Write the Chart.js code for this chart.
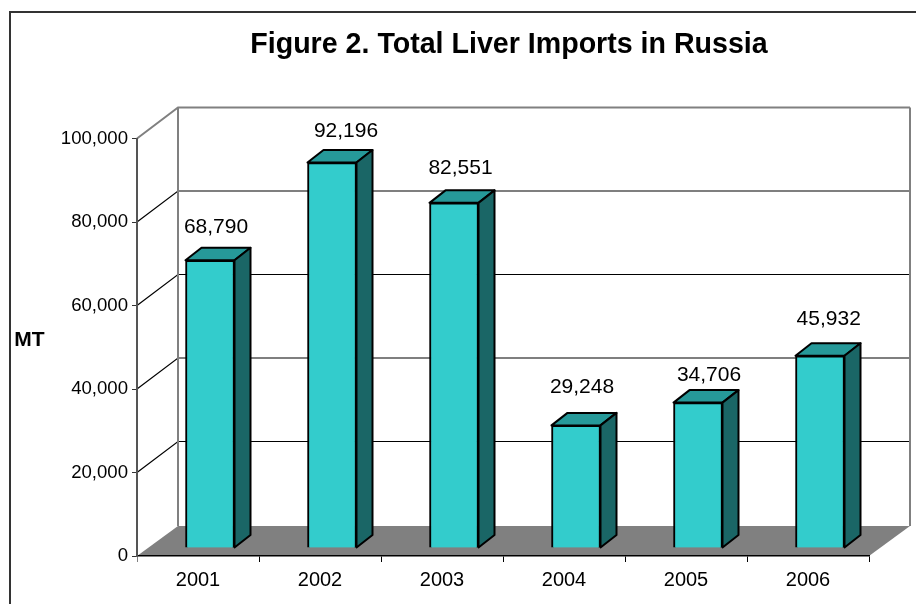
<!DOCTYPE html>
<html lang="en">
<head>
  <title>Total Liver Imports in Russia</title>
  <script src="https://cdn.jsdelivr.net/npm/chart.js"></script>
  <style>
    html, body { margin: 0; background: #fff; }
    .chart-container { position: relative; width: 916px; height: 604px; }
  </style>
</head>
<body>
  <div class="chart-container">
    <canvas id="liverChart"></canvas>
  </div>

  <script>
    const years = ['2001', '2002', '2003', '2004', '2005', '2006'];
    const imports = [68790, 92196, 82551, 29248, 34706, 45932];
    const yTicks = [0, 20000, 40000, 60000, 80000, 100000];
    const chartTitle = 'Figure 2. Total Liver Imports in Russia';
    const axisLabel = 'MT';

    const FONT = '"Liberation Sans", Arial, sans-serif';
    // how far the back wall and the bar depth are pushed up and to the right
    const wall = { dx: 41, dy: -30, gridDy: -31 };
    const depth = { dx: 16, dy: -12.5 };
    const barShift = 12;
    // the value labels were nudged by hand, one [x, y] offset per bar
    const labelNudge = [[0, -33.5], [8, -31.3], [0.5, -34.7], [0, -38], [5, -27.5], [2.7, -36.6]];

    const frame3d = {
      id: 'frame3d',
      beforeDraw(chart) {
        const { ctx, chartArea: a } = chart;
        const y = chart.scales.y;
        const bottom = y.getPixelForValue(0);
        const top = y.getPixelForValue(100000);

        ctx.save();
        // outer frame
        ctx.strokeStyle = '#333';
        ctx.lineWidth = 2;
        ctx.strokeRect(10, 12, 960, 700);

        // floor
        ctx.fillStyle = '#808080';
        ctx.beginPath();
        ctx.moveTo(a.left, bottom);
        ctx.lineTo(a.left + wall.dx, bottom + wall.dy);
        ctx.lineTo(a.right + wall.dx, bottom + wall.dy);
        ctx.lineTo(a.right, bottom);
        ctx.closePath();
        ctx.fill();

        // gridlines run along the side wall then across the back
        yTicks.slice(1).forEach(v => {
          const py = y.getPixelForValue(v);
          ctx.strokeStyle = v === 100000 ? '#808080' : '#000';
          ctx.lineWidth = v === 100000 ? 2 : 1.2;
          ctx.beginPath();
          ctx.moveTo(a.left, py);
          ctx.lineTo(a.left + wall.dx, py + wall.gridDy);
          ctx.lineTo(a.right + wall.dx, py + wall.gridDy);
          ctx.stroke();
        });

        // back wall edges
        ctx.strokeStyle = '#808080';
        ctx.lineWidth = 2;
        [a.left, a.right].forEach(x => {
          ctx.beginPath();
          ctx.moveTo(x + wall.dx, top + wall.gridDy);
          ctx.lineTo(x + wall.dx, bottom + wall.dy);
          ctx.stroke();
        });

        ctx.fillStyle = '#000';
        ctx.textAlign = 'center';
        ctx.textBaseline = 'middle';
        ctx.font = 'bold 28.6px ' + FONT;
        ctx.fillText(chartTitle, 509, 45.6);
        ctx.restore();
      },
      beforeDatasetDraw(chart) {
        chart.ctx.save();
        chart.ctx.translate(barShift, 0);
      },
      afterDatasetDraw(chart) {
        chart.ctx.restore();
      },
      beforeDatasetsDraw(chart) {
        const { ctx } = chart;
        ctx.save();
        ctx.lineWidth = 2;
        ctx.strokeStyle = '#000';
        ctx.lineJoin = 'round';
        chart.getDatasetMeta(0).data.forEach(bar => {
          const left = bar.x - bar.width / 2 + barShift;
          const right = left + bar.width;
          // top face
          ctx.fillStyle = '#269999';
          ctx.beginPath();
          ctx.moveTo(left, bar.y);
          ctx.lineTo(left + depth.dx, bar.y + depth.dy);
          ctx.lineTo(right + depth.dx, bar.y + depth.dy);
          ctx.lineTo(right, bar.y);
          ctx.closePath();
          ctx.fill();
          ctx.stroke();
          // side face
          ctx.fillStyle = '#1a6666';
          ctx.beginPath();
          ctx.moveTo(right, bar.y);
          ctx.lineTo(right + depth.dx, bar.y + depth.dy);
          ctx.lineTo(right + depth.dx, bar.base + depth.dy);
          ctx.lineTo(right, bar.base);
          ctx.closePath();
          ctx.fill();
          ctx.stroke();
        });
        ctx.restore();
      },
      afterDatasetsDraw(chart) {
        const { ctx } = chart;
        ctx.save();
        ctx.fillStyle = '#000';
        ctx.textAlign = 'center';
        ctx.textBaseline = 'middle';
        ctx.font = '21px ' + FONT;
        chart.getDatasetMeta(0).data.forEach((bar, i) => {
          const [nx, ny] = labelNudge[i];
          ctx.fillText(imports[i].toLocaleString('en-US'), bar.x + barShift + 6 + nx, bar.y + ny);
        });
        ctx.font = 'bold 21px ' + FONT;
        ctx.fillText(axisLabel, 29.5, 340.4);
        ctx.restore();
      }
    };

    new Chart(document.getElementById('liverChart'), {
      type: 'bar',
      data: {
        labels: years,
        datasets: [{
          data: imports,
          yAxisID: 'yBars',
          backgroundColor: '#33cccc',
          borderColor: '#000',
          borderWidth: 2,
          barThickness: 49,
          clip: false
        }]
      },
      plugins: [frame3d],
      options: {
        responsive: true,
        maintainAspectRatio: false,
        animation: false,
        layout: { padding: { left: 10, top: 138.5, bottom: 0 } },
        plugins: {
          legend: { display: false },
          tooltip: { enabled: false },
          title: { display: false }
        },
        scales: {
          x: {
            offset: true,
            grid: {
              offset: true,
              drawOnChartArea: false,
              tickLength: 6,
              color: ctx => (ctx.index === 0 || ctx.index === years.length) ? '#808080' : '#000',
              tickWidth: 1
            },
            border: { color: '#000', width: 1.5 },
            ticks: { color: '#000', padding: 6, font: { family: FONT, size: 20 }, maxRotation: 0 },
            afterFit: s => { s.height = 48; }
          },
          y: {
            min: 0,
            max: 100000,
            afterBuildTicks: s => { s.ticks = yTicks.map(value => ({ value })); },
            grid: { drawOnChartArea: false, tickLength: 5, color: '#333' },
            border: { color: '#555', width: 2 },
            ticks: {
              color: '#000',
              padding: 4,
              font: { family: FONT, size: 18.6 },
              callback: v => v.toLocaleString('en-US')
            },
            afterFit: s => { s.width = 127; }
          },
          // bars stand a little in front of the axis zero
          yBars: {
            position: 'right',
            min: -2037,
            max: 97963,
            grid: { display: false },
            border: { display: false },
            ticks: { display: false },
            afterFit: s => { s.width = 47; }
          }
        }
      }
    });
  </script>
</body>
</html>
